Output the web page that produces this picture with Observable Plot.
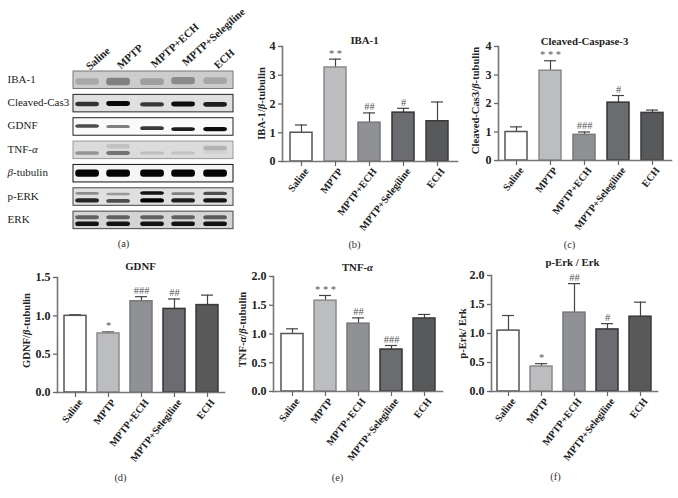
<!DOCTYPE html>
<html>
<head>
<meta charset="utf-8">
<script src="https://cdn.jsdelivr.net/npm/d3@7"></script>
<script src="https://cdn.jsdelivr.net/npm/@observablehq/plot@0.6"></script>
<style>
  html, body { margin: 0; padding: 0; background: #fff; }
  #chart { position: relative; width: 678px; height: 498px; overflow: hidden; }
  #chart svg { position: absolute; overflow: visible; }
  g[aria-label="band"] { filter: blur(1.1px); }
  g[aria-label="band-soft"] { filter: blur(2.4px); }
</style>
</head>
<body>
<div id="chart"></div>
<script>
const SERIF = "'Liberation Serif', serif";
const groups = ["Saline", "MPTP", "MPTP+ECH", "MPTP+Selegiline", "ECH"];

// Quantified panels: bar height, top of error bar, significance mark
const ibaMeans = [1.0, 3.27, 1.35, 1.70, 1.40];
const ibaTops  = [1.27, 3.56, 1.69, 1.85, 2.07];
const ibaMarks = ["", "* *", "##", "#", ""];

const casMeans = [1.0, 3.15, 0.90, 2.03, 1.67];
const casTops  = [1.18, 3.50, 1.00, 2.28, 1.77];
const casMarks = ["", "* * *", "###", "#", ""];

const gdnfMeans = [1.0, 0.77, 1.19, 1.09, 1.14];
const gdnfTops  = [1.015, 0.79, 1.25, 1.22, 1.27];
const gdnfMarks = ["", "*", "###", "##", ""];

const tnfMeans = [1.0, 1.58, 1.18, 0.73, 1.27];
const tnfTops  = [1.09, 1.67, 1.28, 0.80, 1.34];
const tnfMarks = ["", "* * *", "##", "###", ""];

const erkMeans = [1.05, 0.43, 1.36, 1.07, 1.29];
const erkTops  = [1.31, 0.48, 1.86, 1.17, 1.54];
const erkMarks = ["", "*", "##", "#", ""];

// Blot rows and estimated band densities per lane (0 = none, 1 = black)
const blotRows = ["IBA-1", "Cleaved-Cas3", "GDNF", "TNF-α", "β-tubulin", "p-ERK", "ERK"];
const blotBackground = [0.2, 0.12, 0.02, 0.14, 0.04, 0.12, 0.17];
const blotFrame = ["#777", "#222", "#222", "#999", "#111", "#444", "#444"];
const laneCentres = [0.44, 1.41, 2.47, 3.44, 4.44];
const sampleTops = [-0.15, -0.2, -0.25, -0.32, -0.2];

const ibaBand   = [0.34, 0.5, 0.38, 0.46, 0.35];
const casBand   = [0.8, 0.97, 0.78, 0.95, 0.88];
const gdnfBand  = [0.7, 0.5, 0.78, 0.88, 0.95];
const tnfLower  = [0.42, 0.55, 0.25, 0.24, 0.18];
const tnfUpper  = [0.0, 0.24, 0.0, 0.0, 0.3];
const tubBand   = [0.98, 0.98, 0.98, 0.98, 0.98];
const perkUpper = [0.45, 0.4, 0.92, 0.5, 0.7];
const perkLower = [0.85, 0.7, 1.0, 0.88, 0.92];
const erkUpper  = [0.62, 0.62, 0.62, 0.62, 0.65];
const erkLower  = [0.92, 0.92, 0.92, 0.92, 0.92];

const tracks = [
  {row: 0, pos: [.6, .6, .6, .55, .55], spread: .4, soft: true, d: ibaBand},
  {row: 1, pos: [.55, .52, .57, .55, .57], spread: .2, soft: false, d: casBand},
  {row: 2, pos: [.47, .5, .6, .65, .65], spread: .17, soft: false, d: gdnfBand},
  {row: 3, pos: [.68, .68, .68, .68, .65], spread: .2, soft: true, d: tnfLower},
  {row: 3, pos: [.3, .3, .3, .3, .4], spread: .3, soft: true, d: tnfUpper},
  {row: 4, pos: [.5, .5, .5, .5, .5], spread: .3, soft: false, d: tubBand},
  {row: 5, pos: [.32, .35, .3, .34, .32], spread: .15, soft: false, d: perkUpper},
  {row: 5, pos: [.72, .75, .72, .72, .72], spread: .18, soft: false, d: perkLower},
  {row: 6, pos: [.35, .35, .35, .35, .35], spread: .2, soft: false, d: erkUpper},
  {row: 6, pos: [.72, .72, .72, .72, .72], spread: .2, soft: false, d: erkLower}
];

const barFills   = ["#ffffff", "#bcbdbf", "#8f9194", "#6b6c6f", "#58595b"];
const barStrokes = ["#555555", "#8a8b8d", "#77787a", "#333333", "#3a3a3a"];

const rowStep = 0.75;
const bands = tracks.flatMap(t => t.d.map((density, lane) => ({
  row: t.row, lane, density, soft: t.soft,
  y: t.row + t.pos[lane] * rowStep,
  half: t.spread * rowStep * (0.35 + 0.35 * density)
}))).filter(b => b.density > 0);

const gray = v => d3.interpolateRgb("#ffffff", "#000000")(v);

function blot() {
  const rowData = blotRows.map((label, i) => ({label, i, bg: blotBackground[i], frame: blotFrame[i]}));
  const sampleData = groups.map((g, i) => ({g, x: laneCentres[i], y: sampleTops[i]}));
  const bandMark = (soft, name) => Plot.rect(bands.filter(b => b.soft === soft), {
    x1: b => laneCentres[b.lane] - 0.37, x2: b => laneCentres[b.lane] + 0.37,
    y1: b => b.y - b.half, y2: b => b.y + b.half,
    fill: {value: b => gray(b.density), scale: null},
    rx: 3, ariaLabel: name
  });
  return Plot.plot({
    width: 240, height: 250, marginLeft: 73, marginRight: 7, marginTop: 71, marginBottom: 15.5,
    x: {domain: [0, 5], axis: null},
    y: {domain: [0, 7], reverse: true, axis: null},
    style: {fontFamily: SERIF, background: "transparent"},
    marks: [
      Plot.rect(rowData, {x1: 0, x2: 5, y1: d => d.i, y2: d => d.i + rowStep, fill: {value: d => gray(d.bg), scale: null}, ariaLabel: "row"}),
      bandMark(true, "band-soft"),
      bandMark(false, "band"),
      Plot.rect(rowData, {x1: 0, x2: 5, y1: d => d.i, y2: d => d.i + rowStep, fill: "none", stroke: {value: d => d.frame, scale: null}, strokeWidth: 1, ariaLabel: "row-frame"}),
      Plot.text(rowData, {x: -2.06, y: d => d.i + 0.33, text: "label", textAnchor: "start", fontSize: 11, fill: "#222"}),
      Plot.text(sampleData, {x: "x", y: "y", text: "g", rotate: -42, textAnchor: "start", lineAnchor: "middle", fontSize: 10.8, fontWeight: "bold", fill: "#222"}),
      Plot.text(["(a)"], {frameAnchor: "bottom", dx: -30, dy: 8.5, lineAnchor: "middle", fontSize: 10.5, fill: "#333"})
    ]
  });
}

function barPanel(p) {
  const data = groups.map((g, i) => ({g, v: p.means[i], top: p.tops[i], mark: p.marks[i], fill: barFills[i], stroke: barStrokes[i]}));
  const W = p.box[2], H = p.box[3];
  const frameX = (p.axisX + p.endX) / 2, frameY = (p.yTop + p.yZero) / 2;
  return Plot.plot({
    width: W, height: H,
    marginLeft: p.axisX - p.box[0], marginRight: p.box[0] + W - p.endX,
    marginTop: p.yTop - p.box[1], marginBottom: p.box[1] + H - p.yZero,
    x: {domain: groups, paddingInner: 0.34, paddingOuter: 0.18},
    y: {domain: [0, p.max]},
    style: {fontFamily: SERIF, background: "transparent"},
    marks: [
      Plot.ruleX(data, {x: "g", y1: "v", y2: "top", stroke: "#444", strokeWidth: 1.2}),
      Plot.tickY(data, {x: "g", y: "top", stroke: "#444", strokeWidth: 1.2, insetLeft: 5, insetRight: 5}),
      Plot.barY(data, {x: "g", y: "v", fill: {value: "fill", scale: null}, stroke: {value: "stroke", scale: null}, strokeWidth: 1.5}),
      Plot.frame({anchor: "left", stroke: "#777", strokeWidth: 1.6}),
      Plot.frame({anchor: "bottom", stroke: "#777", strokeWidth: 1.6}),
      Plot.axisY({ticks: p.ticks, tickFormat: p.fmt, tickSize: 4, tickPadding: 3, label: null, stroke: "#666", strokeWidth: 1.3, fill: "#222", fontSize: 12, fontWeight: "bold"}),
      Plot.axisX({tickSize: 5, tickFormat: null, label: null, stroke: "#666", strokeWidth: 1.2}),
      Plot.axisX({tickSize: 0, tickPadding: 8, tickRotate: -52, dx: 5, label: null, fill: "#222", fontSize: 10.2, fontWeight: "bold"}),
      Plot.text(data, {x: "g", y: "top", text: "mark", dy: -6, lineAnchor: "middle", fontSize: 10.5, fill: "#555"}),
      Plot.text([p.title], {frameAnchor: "top", dx: p.titleX - frameX, dy: p.titleY - p.yTop, lineAnchor: "middle", fontSize: 10.8, fontWeight: "bold", fill: "#222"}),
      Plot.text([p.label], {frameAnchor: "left", rotate: -90, dx: p.labelX - p.axisX, dy: p.labelY - frameY, textAnchor: "middle", lineAnchor: "middle", fontSize: 10.6, fontWeight: "bold", fill: "#222"}),
      Plot.text([p.caption], {frameAnchor: "bottom", dx: p.capX - frameX, dy: p.capY - p.yZero, lineAnchor: "middle", fontSize: 10.5, fill: "#333"})
    ]
  });
}

const f0 = d3.format("d"), f1 = d3.format(".1f");
const panels = [
  {box: [248, 20, 212, 230], means: ibaMeans, tops: ibaTops, marks: ibaMarks, max: 4, ticks: [0, 1, 2, 3, 4], fmt: f0,
   axisX: 282, endX: 457, yTop: 46, yZero: 161, title: "IBA-1", titleX: 364, titleY: 40, label: "IBA-1/β-tubulin", labelX: 261, labelY: 103, caption: "(b)", capX: 354, capY: 244},
  {box: [460, 20, 218, 230], means: casMeans, tops: casTops, marks: casMarks, max: 4, ticks: [0, 1, 2, 3, 4], fmt: f0,
   axisX: 498, endX: 671, yTop: 46, yZero: 160, title: "Cleaved-Caspase-3", titleX: 584, titleY: 41, label: "Cleaved-Cas3/β-tubulin", labelX: 475, labelY: 100, caption: "(c)", capX: 569, capY: 244},
  {box: [0, 250, 228, 248], means: gdnfMeans, tops: gdnfTops, marks: gdnfMarks, max: 1.5, ticks: [0, .5, 1, 1.5], fmt: f1,
   axisX: 57, endX: 224, yTop: 277, yZero: 392, title: "GDNF", titleX: 140, titleY: 266, label: "GDNF/β-tubulin", labelX: 26, labelY: 330, caption: "(d)", capX: 120, capY: 477},
  {box: [228, 250, 222, 248], means: tnfMeans, tops: tnfTops, marks: tnfMarks, max: 2, ticks: [0, .5, 1, 1.5, 2], fmt: f1,
   axisX: 273, endX: 442, yTop: 276, yZero: 391, title: "TNF-α", titleX: 357, titleY: 267, label: "TNF-α/β-tubulin", labelX: 242, labelY: 329, caption: "(e)", capX: 337, capY: 477},
  {box: [450, 250, 228, 248], means: erkMeans, tops: erkTops, marks: erkMarks, max: 2, ticks: [0, .5, 1, 1.5, 2], fmt: f1,
   axisX: 491, endX: 657, yTop: 275, yZero: 391, title: "p-Erk / Erk", titleX: 572, titleY: 262, label: "p-Erk/ Erk", labelX: 462, labelY: 333, caption: "(f)", capX: 555, capY: 476}
];

// Greek letters in the labels are set in italics
function italicizeGreek(svg) {
  svg.querySelectorAll("text").forEach(t => {
    if (t.children.length || !/[αβ]/.test(t.textContent)) return;
    const parts = t.textContent.split(/([αβ])/).filter(s => s);
    t.textContent = "";
    parts.forEach(s => {
      const span = document.createElementNS("http://www.w3.org/2000/svg", "tspan");
      if (/[αβ]/.test(s)) span.setAttribute("font-style", "italic");
      span.textContent = s;
      t.appendChild(span);
    });
  });
}

const chart = document.getElementById("chart");
function place(svg, left, top) {
  svg.style.left = left + "px";
  svg.style.top = top + "px";
  italicizeGreek(svg);
  chart.appendChild(svg);
}
place(blot(), 0, 0);
panels.forEach(p => place(barPanel(p), p.box[0], p.box[1]));
</script>
</body>
</html>
